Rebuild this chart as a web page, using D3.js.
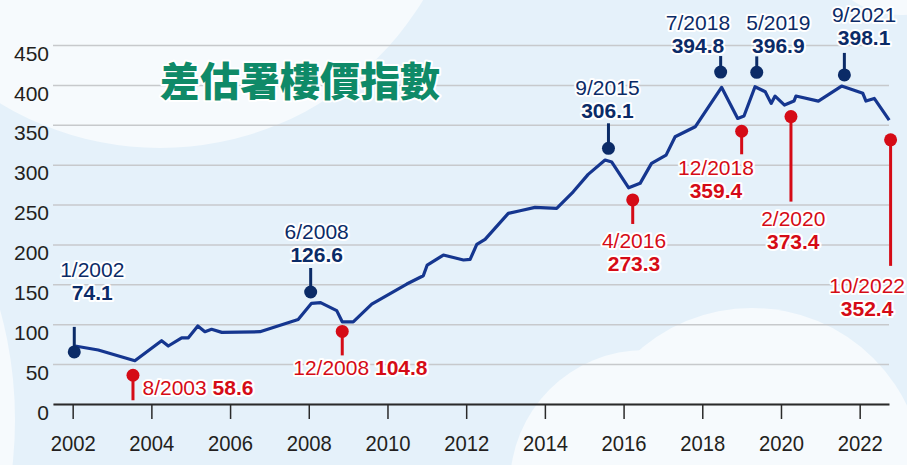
<!DOCTYPE html>
<html>
<head>
<meta charset="utf-8">
<script src="https://d3js.org/d3.v7.min.js"></script>
<style>
  body { margin: 0; background: #e5f1fa; }
  svg { display: block; font-family: "Liberation Sans", Arial, sans-serif; }
  .halo { stroke: #fff; stroke-width: 4px; stroke-linejoin: round; paint-order: stroke; }
</style>
</head>
<body>
<svg id="chart" width="907" height="465"></svg>
<script>
// index line (decimal year, index value)
const dates = [2002.06, 2002.65, 2003.58, 2004.26, 2004.43, 2004.77, 2004.94, 2005.18, 2005.36, 2005.53,
  2005.79, 2006.76, 2007.73, 2008.07, 2008.30, 2008.71, 2008.85, 2009.13, 2009.60, 2010.49,
  2010.91, 2011.01, 2011.42, 2011.93, 2012.10, 2012.27, 2012.48, 2013.07, 2013.37, 2013.75,
  2014.30, 2014.72, 2015.10, 2015.53, 2015.70, 2016.13, 2016.42, 2016.71, 2017.08, 2017.31,
  2017.82, 2018.49, 2018.90, 2019.06, 2019.34, 2019.60, 2019.75, 2019.85, 2020.09, 2020.33,
  2020.38, 2020.95, 2021.54, 2022.08, 2022.16, 2022.37, 2022.75];
const values = [72.7, 67.7, 54.3, 79.4, 72.7, 83, 83, 97.7, 90.6, 93.6,
  89.8, 90.6, 106, 126.2, 127, 117, 103, 103, 125.3, 150.4,
  160.8, 174.2, 186.7, 180.5, 181.3, 200, 206.4, 239, 242.2, 246.5,
  245.2, 266, 287.8, 305.8, 303.3, 271, 276.6, 301.6, 312, 335,
  347.5, 396.9, 358, 361, 397.7, 391.4, 376.8, 386, 374.7, 379.7,
  386, 379.7, 398.5, 389.4, 379.7, 383, 355.9];

// highs and lows called out on the chart
const annDates = ['1/2002', '8/2003', '6/2008', '12/2008', '9/2015', '4/2016',
  '7/2018', '12/2018', '5/2019', '2/2020', '9/2021', '10/2022'];
const annValues = [74.1, 58.6, 126.6, 104.8, 306.1, 273.3, 394.8, 359.4, 396.9, 373.4, 398.1, 352.4];
const annTypes = ['high', 'low', 'high', 'low', 'high', 'low', 'high', 'low', 'high', 'low', 'high', 'low'];

const xTicks = [2002, 2004, 2006, 2008, 2010, 2012, 2014, 2016, 2018, 2020, 2022];
const yTicks = [0, 50, 100, 150, 200, 250, 300, 350, 400, 450];
const title = '差估署樓價指數';

// placement of each call-out: dot offset, stem, label offset (pixels)
const annLayout = [
  { dx: 1.6, dy: 7, stem: -25, lx: 18, ly: -75 },
  { dx: -2, dy: 18, stem: 25, lx: 9.5, ly: 19.5, inline: true },
  { dx: -14.5, dy: -11, stem: -24, lx: 6, ly: -53 },
  { dx: -2.6, dy: 11, stem: 24, lx: -49, ly: 43.5, inline: true },
  { dx: -2, dy: -11.5, stem: -25, lx: -1, ly: -53 },
  { dx: -0.7, dy: 14, stem: 24, lx: 1.3, ly: 47.7 },
  { dx: -1.3, dy: -17, stem: -16, lx: -22.7, ly: -42.3 },
  { dx: 3.3, dy: 14, stem: 23, lx: -25.7, ly: 43.3 },
  { dx: 2, dy: -15, stem: -16, lx: 21.6, ly: -42.3 },
  { dx: 6.7, dy: 10.5, stem: 85, lx: 2.3, ly: 109.3 },
  { dx: -2.2, dy: -11.5, stem: -22, lx: 19.7, ly: -53.3 },
  { dx: 1.4, dy: 17, stem: 126, lx: -23.5, ly: 153.3 }
];

const colors = { line: '#15368f', high: '#0b2b67', low: '#d50b16', grid: '#c7c9cc', text: '#231f20', title: '#0f8a68' };

const svg = d3.select('#chart');
const width = 907, height = 465;

// background clouds
svg.append('rect').attr('width', width).attr('height', height).attr('fill', '#e5f1fa');
const clouds = svg.append('g').attr('fill', '#f6fafd');
[[160, -160, 308], [900, -70, 85], [-400, 420, 415], [645, 485, 135], [752, 480, 172]]
  .forEach(c => clouds.append('circle').attr('cx', c[0]).attr('cy', c[1]).attr('r', c[2]));

const x = d3.scaleLinear().domain([2001.5, 2022.745]).range([53, 889]);
const y = d3.scaleLinear().domain([0, 450]).range([404, 45]);

// grid + y labels
const yAxis = svg.append('g')
  .attr('transform', `translate(${x.range()[0]},0)`)
  .call(d3.axisLeft(y).tickValues(yTicks).tickSize(-(x.range()[1] - x.range()[0])).tickPadding(4));
yAxis.select('.domain').remove();
yAxis.selectAll('.tick line').attr('stroke', colors.grid).attr('stroke-width', 1.5);
yAxis.selectAll('.tick text')
  .attr('dy', '0.72em')
  .attr('fill', colors.text)
  .style('font-size', '21px');

// title
svg.append('text')
  .attr('class', 'halo')
  .attr('x', 160).attr('y', 96)
  .attr('fill', colors.title)
  .style('font-family', '"Noto Sans CJK TC", "Noto Sans CJK SC", sans-serif')
  .style('font-weight', 900)
  .style('font-size', '40px')
  .text(title);

// x axis
const xAxis = svg.append('g')
  .attr('transform', `translate(0,${y(0)})`)
  .call(d3.axisBottom(x).tickValues(xTicks).tickFormat(d3.format('d'))
    .tickSize(15).tickSizeOuter(0).tickPadding(16));
xAxis.select('.domain').attr('stroke', '#2a2a2a').attr('stroke-width', 2);
xAxis.selectAll('.tick line').attr('stroke', '#2a2a2a').attr('stroke-width', 1.5);
xAxis.selectAll('.tick text')
  .attr('fill', colors.text)
  .attr('transform', 'scale(0.92,1)')
  .style('font-size', '22px');

// index line
const series = dates.map((d, i) => [d, values[i]]);
svg.append('path')
  .datum(series)
  .attr('fill', 'none')
  .attr('stroke', colors.line)
  .attr('stroke-width', 3.2)
  .attr('stroke-linejoin', 'round')
  .attr('d', d3.line().x(d => x(d[0])).y(d => y(d[1])));

// call-outs
function toYear(s) {
  const [m, yr] = s.split('/').map(Number);
  return yr + (m - 1) / 12;
}
const ann = annDates.map((d, i) => {
  const l = annLayout[i];
  const cx = x(toYear(d)) + l.dx;
  const cy = y(annValues[i]) + l.dy;
  return { date: d, value: annValues[i], type: annTypes[i], cx, cy, ...l };
});

const marks = svg.append('g').attr('class', 'callouts');
ann.forEach(a => {
  const c = colors[a.type];
  marks.append('line')
    .attr('x1', a.cx).attr('x2', a.cx)
    .attr('y1', a.cy).attr('y2', a.cy + a.stem)
    .attr('stroke', c).attr('stroke-width', 3);
  marks.append('circle')
    .attr('cx', a.cx).attr('cy', a.cy).attr('r', 6.5)
    .attr('fill', c);
  if (a.inline) {
    const t = marks.append('text')
      .attr('class', 'halo')
      .attr('x', a.cx + a.lx).attr('y', a.cy + a.ly)
      .attr('fill', c)
      .style('font-size', '21px');
    t.append('tspan').text(a.date + ' ');
    t.append('tspan').style('font-weight', 'bold').text(a.value.toFixed(1));
  } else {
    marks.append('text')
      .attr('class', 'halo')
      .attr('x', a.cx + a.lx).attr('y', a.cy + a.ly)
      .attr('text-anchor', 'middle')
      .attr('fill', c)
      .style('font-size', '21px')
      .text(a.date);
    marks.append('text')
      .attr('class', 'halo')
      .attr('x', a.cx + a.lx).attr('y', a.cy + a.ly + 23)
      .attr('text-anchor', 'middle')
      .attr('fill', c)
      .style('font-size', '21px')
      .style('font-weight', 'bold')
      .text(a.value.toFixed(1));
  }
});
</script>
</body>
</html>
